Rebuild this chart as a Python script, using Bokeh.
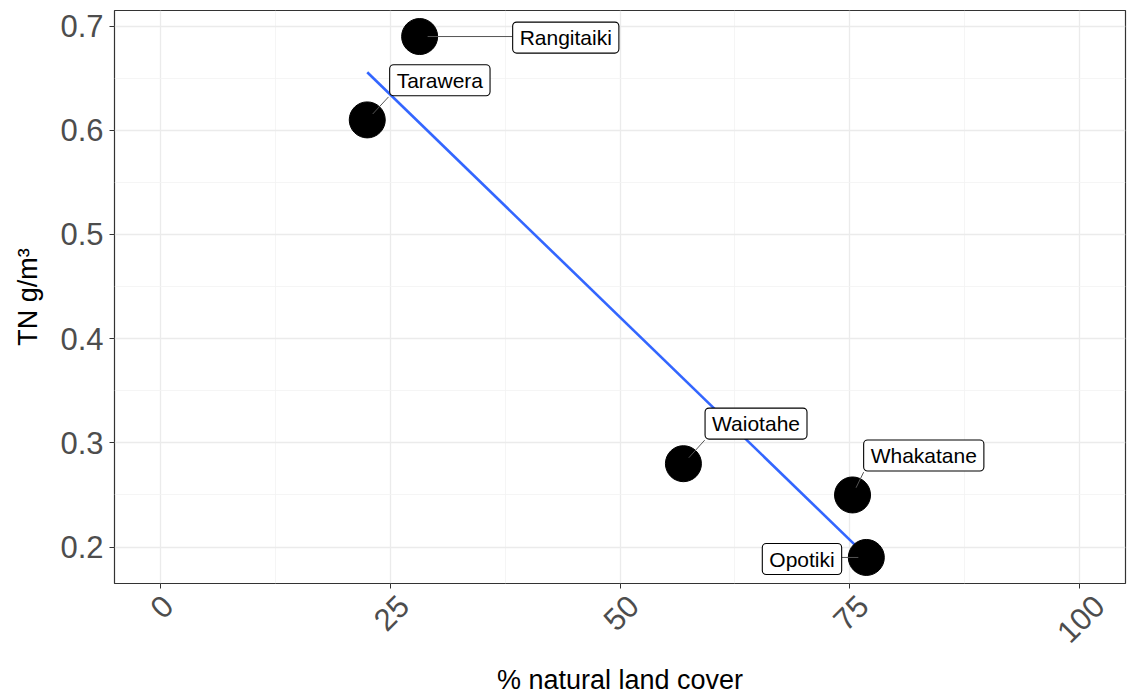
import numpy as np
from bokeh.plotting import figure
from bokeh.models import FixedTicker, ColumnDataSource, Range1d, LinearAxis
from bokeh.embed import file_html
from bokeh.resources import INLINE
from bokeh.core.properties import value

# ---- data ----
rivers = ["Rangitaiki", "Tarawera", "Waiotahe", "Whakatane", "Opotiki"]
natural_cover = [28.2, 22.5, 56.9, 75.3, 76.8]
tn = [0.69, 0.61, 0.28, 0.25, 0.19]
# label positions (as placed by the label repel in the reference)
label_x = [44.1, 30.4, 64.8, 83.05, 69.8]
label_y = [0.689, 0.648, 0.3185, 0.2878, 0.1885]
x_ticks = [0, 25, 50, 75, 100]
x_tick_labels = ["0", "25", "50", "75", "100"]
y_ticks = [0.2, 0.3, 0.4, 0.5, 0.6, 0.7]

FONT = "Liberation Sans"
W, H = 1128, 696
ML, MR, MT, MB = 114, 3, 10, 113
FW, FH = W - ML - MR, H - MT - MB
X0, X1 = -5, 105
Y0, Y1 = 0.165, 0.715
TICK_FS = 31

p = figure(width=W, height=H, output_backend="svg", toolbar_location=None,
           x_range=Range1d(X0, X1), y_range=Range1d(Y0, Y1),
           min_border_left=ML, min_border_right=MR, min_border_top=MT, min_border_bottom=MB,
           frame_width=FW, frame_height=FH)
p.background_fill_color = "white"
p.border_fill_color = "white"
p.outline_line_color = "#333333"
p.outline_line_width = 1.2

xa = p.xaxis[0]
ya = p.yaxis[0]
xa.ticker = FixedTicker(ticks=x_ticks, minor_ticks=[12.5, 37.5, 62.5, 87.5])
ya.ticker = FixedTicker(ticks=y_ticks, minor_ticks=[0.25, 0.35, 0.45, 0.55, 0.65])
for g in (p.xgrid, p.ygrid):
    g.grid_line_color = "#EBEBEB"
    g.grid_line_width = 1.3
    g.minor_grid_line_color = "#F2F2F2"
    g.minor_grid_line_width = 0.8

for ax in (xa, ya):
    ax.axis_line_color = None
    ax.major_tick_line_color = "#333333"
    ax.major_tick_out = 5
    ax.major_tick_in = 0
    ax.minor_tick_line_color = None
    ax.major_label_text_font = FONT
    ax.major_label_text_font_size = f"{TICK_FS}px"
    ax.major_label_text_color = "#4D4D4D"
    ax.axis_label_text_font = FONT
    ax.axis_label_text_font_style = "normal"
    ax.axis_label_text_font_size = "27px"
    ax.axis_label_text_color = "black"

ya.major_label_standoff = 6
ya.axis_label = "TN g/m³"
ya.axis_label_standoff = 14
xa.major_label_text_color = None   # labels drawn by a second, label-only axis

ppx = FW / (X1 - X0)
ppy = FH / (Y1 - Y0)

# second axis carrying the rotated tick labels, shifted so each label is centred under its tick
shifted = []
overrides = {}
for t, s in zip(x_ticks, x_tick_labels):
    w = len(s) * 0.556 * TICK_FS
    pos = round(t + (1 + 0.354 * w) / ppx, 4)
    shifted.append(pos)
    overrides[pos] = s
xb = LinearAxis(ticker=FixedTicker(ticks=shifted), major_label_overrides=overrides)
xb.axis_line_color = None
xb.major_tick_line_color = None
xb.minor_tick_line_color = None
xb.major_label_orientation = np.pi / 4
xb.major_label_text_font = FONT
xb.major_label_text_font_size = f"{TICK_FS}px"
xb.major_label_text_color = "#4D4D4D"
xb.major_label_standoff = 6
xb.axis_label = "% natural land cover"
xb.axis_label_text_font = FONT
xb.axis_label_text_font_style = "normal"
xb.axis_label_text_font_size = "27px"
xb.axis_label_text_color = "black"
xb.axis_label_standoff = 9
p.add_layout(xb, "below")

# linear fit
coef = np.polyfit(natural_cover, tn, 1)
xf = np.array([min(natural_cover), max(natural_cover)])
p.line(xf, np.polyval(coef, xf), line_color="#3366FF", line_width=2.6)

# points
p.scatter(natural_cover, tn, size=36, fill_color="black", line_color="black")

# label leader segments (point -> nearest point of label box)
LFS = 21
cw = {'R': .722, 'a': .556, 'n': .556, 'g': .556, 'i': .222, 't': .278, 'k': .5,
      'T': .611, 'r': .333, 'w': .722, 'e': .556, 'W': .944, 'o': .556, 'h': .556,
      'O': .778, 'p': .556}
PADX, PADY = 7, 4
x0s, y0s, x1s, y1s = [], [], [], []
for name, px_, py_, lx, ly in zip(rivers, natural_cover, tn, label_x, label_y):
    tw = sum(cw.get(c, .556) for c in name) * LFS
    hw = tw / 2 + PADX
    hh = LFS * 0.6 + PADY
    dxp = (lx - px_) * ppx
    dyp = (ly - py_) * ppy
    cx = min(max(0, dxp - hw), dxp + hw)
    cy = min(max(0, dyp - hh), dyp + hh)
    d = np.hypot(cx, cy)
    sx, sy = (cx / d * 8, cy / d * 8) if d > 0 else (0, 0)
    x0s.append(px_ + sx / ppx); y0s.append(py_ + sy / ppy)
    x1s.append(px_ + cx / ppx); y1s.append(py_ + cy / ppy)
p.segment(x0s, y0s, x1s, y1s, line_color="#555555", line_width=1)

src = ColumnDataSource(dict(x=label_x, y=label_y, t=rivers))
p.text("x", "y", text="t", source=src, text_font=value(FONT), text_font_size=f"{LFS}px",
       text_color="black", text_align="center", text_baseline="middle",
       background_fill_color="white", border_line_color="black", border_line_width=1.1,
       padding=(PADX, PADY), border_radius=4)

open("out.html", "w").write(file_html(p, INLINE))
